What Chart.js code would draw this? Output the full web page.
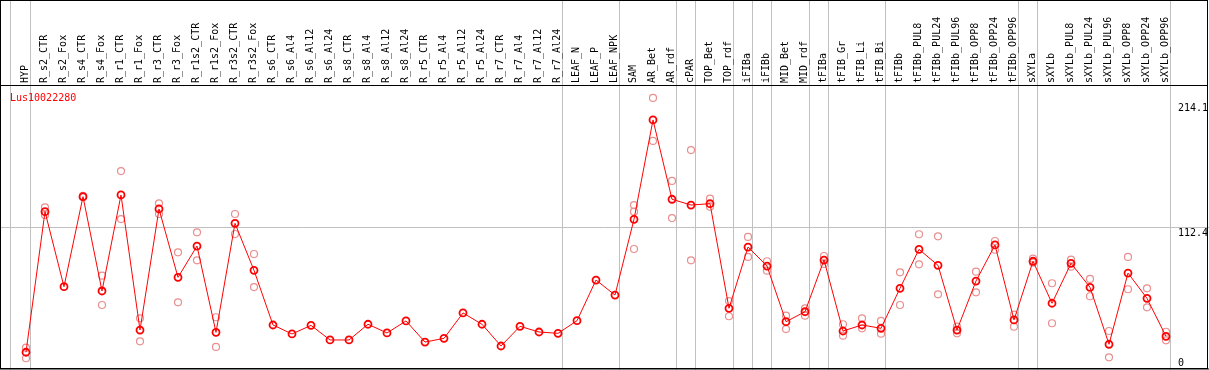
<!DOCTYPE html>
<html>
<head>
<meta charset="utf-8">
<script src="https://cdn.jsdelivr.net/npm/chart.js@4"></script>
<style>
  html, body { margin: 0; padding: 0; background: #fff; }
  #wrap { width: 1209px; height: 370px; position: relative; }
</style>
</head>
<body>
<div id="wrap"><canvas id="expChart"></canvas></div>
<script>
    // sample names (x categories)
    var categories = ["HYP", "R_s2_CTR", "R_s2_Fox", "R_s4_CTR", "R_s4_Fox", "R_r1_CTR", "R_r1_Fox",
        "R_r3_CTR", "R_r3_Fox", "R_r1s2_CTR", "R_r1s2_Fox", "R_r3s2_CTR", "R_r3s2_Fox",
        "R_s6_CTR", "R_s6_Al4", "R_s6_Al12", "R_s6_Al24", "R_s8_CTR", "R_s8_Al4", "R_s8_Al12", "R_s8_Al24",
        "R_r5_CTR", "R_r5_Al4", "R_r5_Al12", "R_r5_Al24", "R_r7_CTR", "R_r7_Al4", "R_r7_Al12", "R_r7_Al24",
        "LEAF_N", "LEAF_P", "LEAF_NPK", "SAM", "AR_Bet", "AR_rdf", "cPAR", "TOP_Bet", "TOP_rdf",
        "iFIBa", "iFIBb", "MID_Bet", "MID_rdf", "tFIBa", "tFIB_Gr", "tFIB_Li", "tFIB_Bi",
        "tFIBb", "tFIBb_PUL8", "tFIBb_PUL24", "tFIBb_PUL96", "tFIBb_OPP8", "tFIBb_OPP24", "tFIBb_OPP96",
        "sXYLa", "sXYLb", "sXYLb_PUL8", "sXYLb_PUL24", "sXYLb_PUL96", "sXYLb_OPP8", "sXYLb_OPP24", "sXYLb_OPP96"];

    // mean expression
    var means = [11.2, 125.7, 64.6, 137.9, 61.1, 139.3, 29.3, 127.9, 72.2, 97.7, 27.4, 116.2, 77.9,
        33.4, 26.1, 33.1, 21.2, 21.2, 34.0, 26.9, 36.7, 19.5, 22.5, 43.2, 34.0, 16.3, 32.3, 27.7, 26.6,
        36.9, 70.0, 57.8, 119.5, 200.4, 135.8, 131.1, 132.2, 47.0, 96.9, 81.4, 36.1, 44.2, 86.3,
        28.5, 33.4, 30.7, 63.3, 95.0, 82.0, 29.3, 69.2, 98.6, 37.5, 85.3, 51.1, 83.6, 64.1, 17.7,
        75.7, 55.1, 24.2];

    // replicates (null = hidden under the mean marker)
    var rep1 = [14.9, 129.2, null, 138.5, 73.6, 158.8, 38.8, 132.5, 92.6, 108.9, 39.7, 123.8, 91.2,
        null, null, null, null, null, null, null, null, null, null, null, null, null, null, null, null,
        null, null, null, 131.1, 218.3, 150.7, 175.9, 136.3, 52.9, 105.1, 85.3, 41.0, 47.0, 89.6,
        34.0, 38.8, 36.7, 76.3, 107.3, 105.6, 32.0, 76.8, 101.8, 41.8, 87.4, 67.4, 86.6, 70.9, 28.5,
        88.8, 63.3, 27.9];
    var rep2 = [6.3, 123.0, null, 137.5, 49.7, 119.7, 20.1, 123.8, 51.9, 86.1, 15.5, 107.5, 64.3,
        null, null, null, null, null, null, null, null, null, null, null, null, null, null, null, null,
        null, null, null, 125.7, 183.3, 120.5, 86.1, 129.7, 40.5, 88.8, 77.6, 30.1, 41.0, 83.1,
        24.7, 30.7, 26.3, 49.7, 82.8, 58.4, 26.6, 60.0, 94.7, 32.0, 84.1, 34.8, 80.9, 56.8, 7.1,
        62.5, 47.8, 20.9];
    var rep3 = {32: 95.3};

    // group separators (between sample groups) and y labels
    var groupBreaks = [-0.8, 0.25, 28.25, 31.25, 34.25, 35.25, 37.25, 38.25, 39.25, 41.25, 42.25,
        45.25, 52.25, 53.25, 60.25];
    var yLabels = [214.1, 112.4, 0];
    var yGrid = [112.4];
    var geneName = "Lus10022280";

    var FONT = '10px "DejaVu Sans Mono", monospace';

    var meanPts = means.map(function (v, i) { return { x: i, y: v }; });
    var repPts = [];
    rep1.forEach(function (v, i) { if (v !== null) repPts.push({ x: i, y: v }); });
    rep2.forEach(function (v, i) { if (v !== null) repPts.push({ x: i, y: v }); });
    Object.keys(rep3).forEach(function (k) { repPts.push({ x: +k, y: rep3[k] }); });

    var decor = {
        id: "decor",
        afterDraw: function (chart) {
            var c = chart.ctx, xs = chart.scales.x, ys = chart.scales.y;
            c.save();
            // frame and header separator
            c.strokeStyle = "#000";
            c.lineWidth = 1;
            c.strokeRect(0.5, 0.5, 1207, 368);
            c.beginPath();
            c.moveTo(0, 85.5); c.lineTo(1208, 85.5);
            c.moveTo(0, 369); c.lineTo(1209, 369);
            c.stroke();
            // sample names, rotated
            c.font = FONT;
            c.fillStyle = "#000";
            c.textAlign = "left";
            c.textBaseline = "middle";
            categories.forEach(function (name, i) {
                var px = xs.getPixelForValue(i) - 0.5;
                c.save();
                c.translate(px, 83);
                c.rotate(-Math.PI / 2);
                c.fillText(name, 0, 0);
                c.restore();
            });
            // y labels on the right
            c.textBaseline = "top";
            yLabels.forEach(function (v) {
                var py = Math.min(ys.getPixelForValue(v), 358);
                c.fillText(String(v), 1178, py);
            });
            // gene name
            c.fillStyle = "#ff0000";
            c.fillText(geneName, 10, 93);
            c.restore();
        }
    };

    var ctx = document.getElementById("expChart").getContext("2d");
    var chart = new Chart(ctx, {
        type: "line",
        data: {
            datasets: [
                {
                    label: "mean",
                    data: meanPts,
                    borderColor: "#ff0000",
                    borderWidth: 1,
                    fill: false,
                    tension: 0,
                    pointStyle: "circle",
                    pointRadius: 3.5,
                    pointBorderWidth: 1.8,
                    pointBorderColor: "#ff0000",
                    pointBackgroundColor: "rgba(0,0,0,0)",
                    order: 1
                },
                {
                    type: "scatter",
                    label: "replicates",
                    data: repPts,
                    showLine: false,
                    pointRadius: 3.5,
                    pointBorderWidth: 1.2,
                    pointBorderColor: "#e98f8f",
                    pointBackgroundColor: "rgba(0,0,0,0)",
                    order: 2
                }
            ]
        },
        options: {
            responsive: true,
            maintainAspectRatio: false,
            animation: false,
            layout: { padding: 0, autoPadding: false },
            plugins: { legend: { display: false }, tooltip: { enabled: false } },
            scales: {
                x: {
                    type: "linear",
                    min: -26 / 19,
                    max: -26 / 19 + 1209 / 19,
                    afterBuildTicks: function (s) { s.ticks = groupBreaks.map(function (v) { return { value: v }; }); },
                    ticks: { display: false },
                    grid: { color: "#c0c0c0", lineWidth: 1, drawTicks: false },
                    border: { display: false }
                },
                y: {
                    min: -4 / 1.2278,
                    max: -4 / 1.2278 + 370 / 1.2278,
                    afterBuildTicks: function (s) { s.ticks = yGrid.map(function (v) { return { value: v }; }); },
                    ticks: { display: false },
                    grid: { color: "#c0c0c0", lineWidth: 1, drawTicks: false },
                    border: { display: false }
                }
            }
        },
        plugins: [decor]
    });
</script>
</body>
</html>
